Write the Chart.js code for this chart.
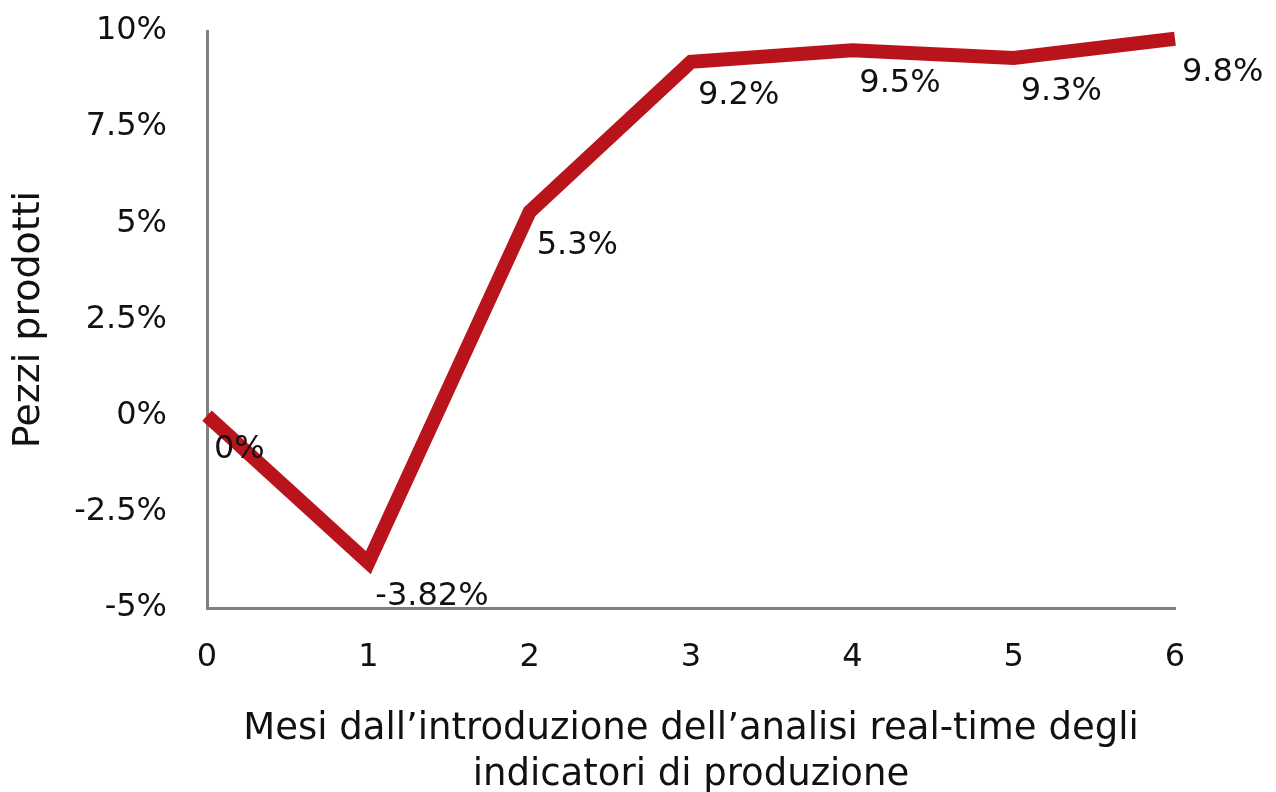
<!DOCTYPE html>
<html>
<head>
<meta charset="utf-8">
<script src="https://cdn.jsdelivr.net/npm/chart.js@4/dist/chart.umd.min.js"></script>
<style>
  html, body { margin: 0; padding: 0; background: #ffffff; }
  #wrap { width: 1276px; height: 792px; position: relative; }
</style>
</head>
<body>
<div id="wrap"><canvas id="c" width="1276" height="792"></canvas></div>
<script>
// Months since introduction and percentage change in parts produced
const months = ['0', '1', '2', '3', '4', '5', '6'];
const pezziProdotti = [0, -3.82, 5.3, 9.2, 9.5, 9.3, 9.8];
const pointLabels = ['0%', '-3.82%', '5.3%', '9.2%', '9.5%', '9.3%', '9.8%'];
const yTicks = [-5, -2.5, 0, 2.5, 5, 7.5, 10];

const FONT = "'DejaVu Sans', 'Noto Sans', sans-serif";
const TEXT = '#111111';
const AXIS = '#7f7f7f';

// Draws each value label just below and to the right of its point
const valueLabels = {
  id: 'valueLabels',
  afterDatasetsDraw(chart) {
    const ctx = chart.ctx;
    const meta = chart.getDatasetMeta(0);
    ctx.save();
    ctx.font = '32px ' + FONT;
    ctx.fillStyle = TEXT;
    ctx.textAlign = 'left';
    ctx.textBaseline = 'alphabetic';
    meta.data.forEach((pt, i) => {
      ctx.fillText(pointLabels[i], pt.x + 7, pt.y + 42);
    });
    ctx.restore();
  }
};

new Chart(document.getElementById('c'), {
  type: 'line',
  data: {
    labels: months,
    datasets: [{
      data: pezziProdotti,
      borderColor: '#b9141c',
      borderWidth: 14,
      borderCapStyle: 'butt',
      borderJoinStyle: 'miter',
      pointRadius: 0,
      tension: 0,
      fill: false,
      clip: false
    }]
  },
  options: {
    responsive: false,
    animation: false,
    layout: { padding: { top: 31, right: 101, bottom: 0, left: 0 } },
    plugins: { legend: { display: false }, tooltip: { enabled: false } },
    scales: {
      x: {
        offset: false,
        grid: { display: false, drawTicks: false },
        border: { display: true, color: AXIS, width: 3 },
        ticks: { color: TEXT, font: { family: FONT, size: 32 }, padding: 30, maxRotation: 0 },
        title: {
          display: true,
          text: ["Mesi dall\u2019introduzione dell\u2019analisi real-time degli", 'indicatori di produzione'],
          color: TEXT,
          font: { family: FONT, size: 37, lineHeight: 1.25 },
          padding: { top: 0, bottom: -7 }
        },
        afterFit(scale) {
          scale.height = 184;
          scale.paddingLeft = 0;
          scale.paddingRight = 0;
        }
      },
      y: {
        min: -5,
        max: 10,
        grid: { display: false, drawTicks: false },
        border: { display: true, color: AXIS, width: 3 },
        afterBuildTicks(scale) { scale.ticks = yTicks.map(v => ({ value: v })); },
        ticks: {
          color: TEXT,
          font: { family: FONT, size: 32 },
          padding: 40,
          callback: v => v + '%'
        },
        title: {
          display: true,
          text: 'Pezzi prodotti',
          color: TEXT,
          font: { family: FONT, size: 38 },
          padding: { top: 6, bottom: 0 }
        },
        afterFit(scale) {
          scale.width = 207;
          scale.paddingTop = 0;
          scale.paddingBottom = 0;
        }
      }
    }
  },
  plugins: [valueLabels]
});
</script>
</body>
</html>
